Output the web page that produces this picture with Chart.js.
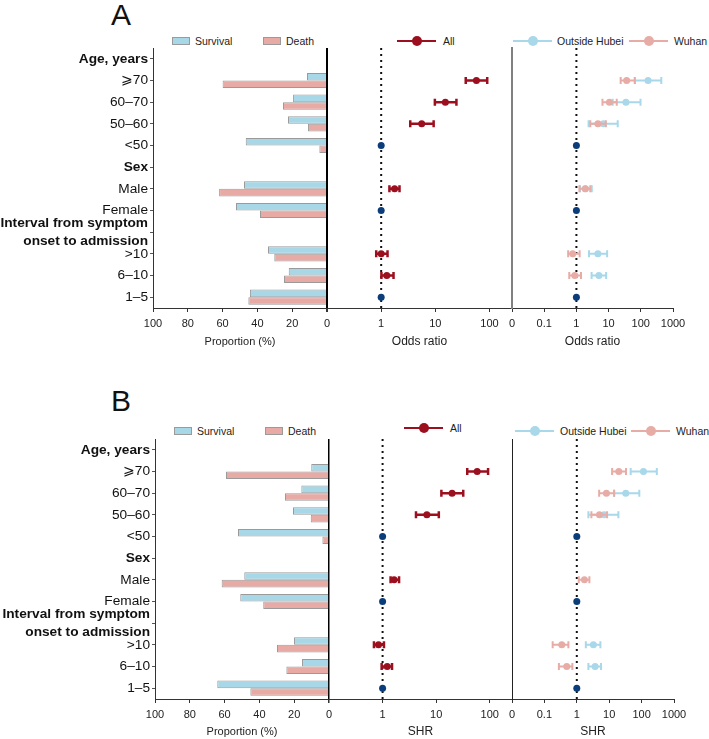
<!DOCTYPE html>
<html>
<head>
<meta charset="utf-8">
<script src="https://cdn.jsdelivr.net/npm/chart.js@4.4.1/dist/chart.umd.min.js"></script>
<style>
  body { margin: 0; background: #fff; font-family: "Liberation Sans", Arial, sans-serif; color: #222; }
  #page { position: relative; width: 709px; height: 739px; overflow: hidden; }
  canvas { position: absolute; left: 0; }
  .plabel { position: absolute; left: 111px; font-size: 30px; line-height: 30px; color: #111; }
  .leg { position: absolute; height: 14px; display: flex; align-items: center; font-size: 10.5px; white-space: nowrap; color: #222; }
  .box { width: 16px; height: 6px; border: 1px solid #9a9a9a; margin-right: 5px; }
  .ln { position: relative; width: 39px; height: 2.5px; margin-right: 6px; }
  .ln i { position: absolute; left: 14.5px; top: -3.75px; width: 10px; height: 10px; border-radius: 50%; }
</style>
</head>
<body>
<div id="page">
  <div class="plabel" style="top:0px">A</div>
  <div class="plabel" style="top:386px">B</div>

  <div class="leg" style="left:172px;top:34px"><div class="box" style="background:#a8d8e8"></div>Survival</div>
  <div class="leg" style="left:263px;top:34px"><div class="box" style="background:#e8aaa5"></div>Death</div>
  <div class="leg" style="left:397px;top:34px"><div class="ln" style="background:#9b0f1e;margin-right:7px"><i style="background:#9b0f1e"></i></div>All</div>
  <div class="leg" style="left:513px;top:34px"><div class="ln" style="background:#a8d8ea;margin-right:5px"><i style="background:#a8d8ea"></i></div>Outside Hubei</div>
  <div class="leg" style="left:629px;top:34px"><div class="ln" style="background:#e8aca6;margin-right:6px"><i style="background:#e8aca6"></i></div>Wuhan</div>

  <div class="leg" style="left:174px;top:424px"><div class="box" style="background:#a8d8e8"></div>Survival</div>
  <div class="leg" style="left:265px;top:424px"><div class="box" style="background:#e8aaa5"></div>Death</div>
  <div class="leg" style="left:404px;top:421px"><div class="ln" style="background:#9b0f1e;margin-right:7px"><i style="background:#9b0f1e"></i></div>All</div>
  <div class="leg" style="left:515px;top:424px"><div class="ln" style="background:#a8d8ea;margin-right:6px"><i style="background:#a8d8ea"></i></div>Outside Hubei</div>
  <div class="leg" style="left:631px;top:424px"><div class="ln" style="background:#e8aca6;margin-right:6px"><i style="background:#e8aca6"></i></div>Wuhan</div>

  <canvas id="barA" width="709" height="360" style="top:0px"></canvas>
  <canvas id="allA" width="709" height="360" style="top:0px"></canvas>
  <canvas id="subA" width="709" height="360" style="top:0px"></canvas>
  <canvas id="barB" width="709" height="379" style="top:360px"></canvas>
  <canvas id="allB" width="709" height="379" style="top:360px"></canvas>
  <canvas id="subB" width="709" height="379" style="top:360px"></canvas>
</div>
<script>
const FONT = '"Liberation Sans", Arial, sans-serif';

// rows, top to bottom
const rowLabels = ['Age, years', '⩾70', '60–70', '50–60', '<50', 'Sex', 'Male', 'Female',
  ['Interval from symptom', 'onset to admission'], '>10', '6–10', '1–5'];
const headingRows = [0, 5, 8];
const refRows = [4, 7, 11];   // <50, Female, 1–5 (reference = 1)
const refValue = 1;

// tick values / labels
const propTicks = [0, 20, 40, 60, 80, 100];
const allTicks = [1, 10, 100];
const subTicks = [0.01, 0.1, 1, 10, 100, 1000];
const subTickLabels = ['0', '0.1', '1', '10', '100', '1000'];

// panel A - proportions (%)
const survivalA = [null, 11.5, 19.5, 22.4, 46.7, null, 47.7, 52.3, null, 33.9, 22.0, 44.3];
const deathA    = [null, 60.0, 25.3, 10.9, 4.4, null, 62.0, 38.5, null, 30.3, 24.7, 45.2];
// panel A - odds ratios
const allA    = [null, 57.3, 15.3, 5.6, null, null, 1.77, null, null, 1.0, 1.27, null];
const allLoA  = [null, 36.4, 9.8, 3.44, null, null, 1.42, null, null, 0.81, 1.01, null];
const allHiA  = [null, 90.7, 24.5, 9.3, null, null, 2.18, null, null, 1.31, 1.69, null];
const wuhanA   = [null, 36.3, 10.6, 4.65, null, null, 1.89, null, null, 0.77, 0.89, null];
const wuhanLoA = [null, 23.7, 6.45, 2.7, null, null, 1.24, null, null, 0.555, 0.6, null];
const wuhanHiA = [null, 65.4, 17.9, 8.2, null, null, 2.7, null, null, 1.26, 1.39, null];
const ohA   = [null, 168, 34.5, 6.9, null, null, 1.9, null, null, 4.65, 4.98, null];
const ohLoA = [null, 65, 13.4, 2.39, null, null, 1.3, null, null, 2.46, 2.96, null];
const ohHiA = [null, 433, 98, 19.2, null, null, 3.0, null, null, 9.0, 8.4, null];

// panel B - proportions (%)
const survivalB = [null, 10.2, 15.9, 20.7, 52.3, null, 48.7, 51.0, null, 20.1, 15.5, 64.2];
const deathB    = [null, 59.2, 25.3, 10.5, 3.8, null, 61.7, 37.8, null, 29.9, 24.5, 45.2];
// panel B - SHR
const allB    = [null, 58.2, 19.8, 6.7, null, null, 1.64, null, null, 0.84, 1.22, null];
const allLoB  = [null, 38, 12.5, 4.2, null, null, 1.41, null, null, 0.69, 0.96, null];
const allHiB  = [null, 93, 32, 11.2, null, null, 2.03, null, null, 1.06, 1.5, null];
const wuhanB   = [null, 19.8, 8.2, 5.0, null, null, 1.72, null, null, 0.344, 0.49, null];
const wuhanLoB = [null, 12.3, 4.9, 2.82, null, null, 1.15, null, null, 0.18, 0.28, null];
const wuhanHiB = [null, 33, 14.2, 8.6, null, null, 2.45, null, null, 0.55, 0.73, null];
const ohB   = [null, 114, 32.5, 6.96, null, null, null, null, null, 3.25, 3.67, null];
const ohLoB = [null, 46, 14.2, 2.28, null, null, null, null, null, 1.9, 2.28, null];
const ohHiB = [null, 295, 85, 19.2, null, null, null, null, null, 5.35, 5.6, null];

const colors = {
  survival: '#a8d8e8', death: '#e8aaa5', barBorder: '#9a9a9a',
  all: '#9b0f1e', oh: '#a8d8ea', wuhan: '#e8aca6', ref: '#0b3d7a'
};

// dotted line at 1 + error bars drawn under each dataset's points
const forestPlugin = {
  id: 'forest',
  beforeDatasetsDraw(chart) {
    const {ctx, chartArea} = chart;
    const x = chart.scales.x.getPixelForValue(refValue);
    ctx.save();
    ctx.strokeStyle = '#111';
    ctx.lineWidth = 2;
    ctx.setLineDash([2, 4]);
    ctx.beginPath();
    ctx.moveTo(x, chartArea.top);
    ctx.lineTo(x, chartArea.bottom);
    ctx.stroke();
    ctx.restore();
  },
  beforeDatasetDraw(chart, args) {
    const ds = chart.data.datasets[args.index];
    if (!ds.errorBars) return;
    const ctx = chart.ctx;
    const xs = chart.scales.x;
    ctx.save();
    ctx.strokeStyle = ds.pointBackgroundColor;
    ctx.lineWidth = ds.barWidth;
    args.meta.data.forEach((pt, j) => {
      const d = ds.data[j];
      const x1 = xs.getPixelForValue(d.lo);
      const x2 = xs.getPixelForValue(d.hi);
      ctx.beginPath();
      ctx.moveTo(x1, pt.y); ctx.lineTo(x2, pt.y);
      ctx.moveTo(x1, pt.y - 3.5); ctx.lineTo(x1, pt.y + 3.5);
      ctx.moveTo(x2, pt.y - 3.5); ctx.lineTo(x2, pt.y + 3.5);
      ctx.stroke();
    });
    ctx.restore();
  }
};

function points(est, lo, hi) {
  return est.map((v, i) => v == null ? null : {x: v, y: i, lo: lo[i], hi: hi[i]}).filter(p => p);
}

function refSet() {
  return {
    data: refRows.map(r => ({x: refValue, y: r})),
    pointRadius: 3.5, pointBackgroundColor: colors.ref, pointBorderWidth: 0
  };
}

function estSet(pts, color, w) {
  return {
    data: pts, errorBars: true, barWidth: w,
    pointRadius: 3.5, pointBackgroundColor: color, pointBorderWidth: 0
  };
}

function xTitle(text, size) {
  return {display: true, text: text, color: '#222', padding: 0,
    font: {family: FONT, size: size, lineHeight: '14px'}};
}

const tickFont = {family: FONT, size: 11};
const rowY = {type: 'linear', min: -0.5, max: rowLabels.length - 0.5, reverse: true, display: false};

function drawPanel(g, d) {
  const xH = g.titleY + 7 - g.areaBottom;
  const padB = g.height - g.titleY - 7;
  const fitX = s => { s.height = xH; };
  const base = {responsive: false, animation: false, events: []};

  // proportion bars
  new Chart(document.getElementById(d.ids[0]), {
    type: 'bar',
    data: {
      labels: rowLabels,
      datasets: [
        {data: d.survival, backgroundColor: colors.survival, borderColor: colors.barBorder, borderWidth: 1},
        {data: d.death, backgroundColor: colors.death, borderColor: colors.barBorder, borderWidth: 1}
      ]
    },
    options: Object.assign({}, base, {
      indexAxis: 'y',
      categoryPercentage: 0.7,
      barPercentage: 1,
      layout: {padding: {left: 0, right: 709 - g.split1, top: g.areaTop, bottom: padB}},
      plugins: {legend: {display: false}, tooltip: {enabled: false}},
      scales: {
        x: {
          min: 0, max: 100, reverse: true, z: 1,
          afterBuildTicks: s => { s.ticks = propTicks.map(v => ({value: v})); },
          afterFit: fitX,
          ticks: {font: tickFont, color: '#222', padding: 5, maxRotation: 0},
          grid: {
            drawOnChartArea: true, tickLength: 4, tickColor: '#333',
            color: c => (c.tick && c.tick.value === 0) ? '#000' : 'rgba(0,0,0,0)',
            lineWidth: c => (c.tick && c.tick.value === 0) ? g.zeroW : 1
          },
          border: {color: '#333', width: 1},
          title: xTitle('Proportion (%)', 11)
        },
        y: {
          afterFit: s => { s.width = g.barLeft; },
          ticks: {
            color: '#111', padding: 2, autoSkip: false,
            font: c => ({family: FONT, size: 13.7, lineHeight: 1.3,
              weight: headingRows.includes(c.index) ? 'bold' : 'normal'})
          },
          grid: {drawOnChartArea: false, offset: false, tickLength: 3, color: '#555'},
          border: {color: '#333', width: 1}
        }
      }
    })
  });

  // all patients
  new Chart(document.getElementById(d.ids[1]), {
    type: 'scatter',
    data: {datasets: [refSet(), estSet(points(d.all, d.allLo, d.allHi), colors.all, 2.5)]},
    options: Object.assign({}, base, {
      layout: {padding: {left: g.split1, right: 709 - g.split2, top: g.areaTop, bottom: padB}},
      plugins: {legend: {display: false}, tooltip: {enabled: false}},
      scales: {
        x: {
          type: 'logarithmic', min: 0.1, max: 260,
          afterBuildTicks: s => { s.ticks = allTicks.map(v => ({value: v})); },
          afterFit: fitX,
          ticks: {font: tickFont, color: '#222', padding: 5, maxRotation: 0, callback: v => String(v)},
          grid: {drawOnChartArea: false, tickLength: 4, color: '#333'},
          border: {color: '#333', width: 1},
          title: xTitle(d.stat, 12)
        },
        y: rowY
      }
    }),
    plugins: [forestPlugin]
  });

  // outside Hubei vs Wuhan
  new Chart(document.getElementById(d.ids[2]), {
    type: 'scatter',
    data: {datasets: [
      refSet(),
      estSet(points(d.wuhan, d.wuhanLo, d.wuhanHi), colors.wuhan, 2),
      estSet(points(d.oh, d.ohLo, d.ohHi), colors.oh, 2)
    ]},
    options: Object.assign({}, base, {
      layout: {padding: {left: g.split2, right: 709 - g.right, top: g.areaTop, bottom: padB}},
      plugins: {legend: {display: false}, tooltip: {enabled: false}},
      scales: {
        x: {
          type: 'logarithmic', min: subTicks[0], max: subTicks[subTicks.length - 1],
          afterBuildTicks: s => { s.ticks = subTicks.map(v => ({value: v})); },
          afterFit: fitX,
          ticks: {font: tickFont, color: '#222', padding: 5, maxRotation: 0,
            callback: (v, i) => subTickLabels[i]},
          grid: {drawOnChartArea: false, tickLength: 4, color: '#333'},
          border: {color: '#333', width: 1},
          title: xTitle(d.stat, 12)
        },
        y: Object.assign({}, rowY, {
          display: true,
          afterFit: s => { s.width = 0; },
          ticks: {display: false},
          grid: {display: false},
          border: {display: true, color: g.sepColor, width: g.sepW}
        })
      }
    }),
    plugins: [forestPlugin]
  });
}

drawPanel(
  {height: 360, areaTop: 48, areaBottom: 308, titleY: 342, barLeft: 153, split1: 327, split2: 512, right: 673,
   zeroW: 2, sepColor: '#808080', sepW: 2},
  {ids: ['barA', 'allA', 'subA'], stat: 'Odds ratio',
   survival: survivalA, death: deathA,
   all: allA, allLo: allLoA, allHi: allHiA,
   wuhan: wuhanA, wuhanLo: wuhanLoA, wuhanHi: wuhanHiA,
   oh: ohA, ohLo: ohLoA, ohHi: ohHiA}
);

drawPanel(
  {height: 379, areaTop: 79, areaBottom: 339, titleY: 372, barLeft: 155, split1: 329, split2: 512, right: 674,
   zeroW: 1.5, sepColor: '#222', sepW: 1},
  {ids: ['barB', 'allB', 'subB'], stat: 'SHR',
   survival: survivalB, death: deathB,
   all: allB, allLo: allLoB, allHi: allHiB,
   wuhan: wuhanB, wuhanLo: wuhanLoB, wuhanHi: wuhanHiB,
   oh: ohB, ohLo: ohLoB, ohHi: ohHiB}
);
</script>
</body>
</html>
